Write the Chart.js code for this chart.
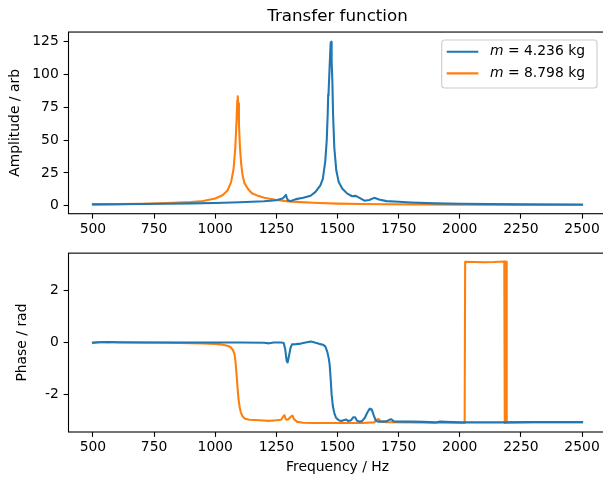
<!DOCTYPE html>
<html><head><meta charset="utf-8">
<script src="https://cdn.jsdelivr.net/npm/chart.js@4/dist/chart.umd.min.js"></script>
<style>
html,body{margin:0;padding:0;background:#fff;overflow:hidden;width:603px;height:481px;}
#wrap{position:relative;width:603px;height:481px;overflow:hidden;background:#fff;}
canvas{position:absolute;left:0;}
#c1{top:0;} #c2{top:240px;}
</style></head><body>
<div id="wrap"><canvas id="c1" width="620" height="240"></canvas><canvas id="c2" width="620" height="241"></canvas></div>
<script>
// ---------------- data ----------------
const masses = [4.236, 8.798];
const xTicks = [500, 750, 1000, 1250, 1500, 1750, 2000, 2250, 2500];
const ampTicks = [0, 25, 50, 75, 100, 125];
const phaseTicks = [-2, 0, 2];

const ampFreqBlue = [500,600,700,800,900,1000,1100,1200,1250,1275,1284,1289,1293,1298,1310,1330,1360,1390,1410,1430,1440,1450,1456,1460,1462,1463,1464,1468,1472,1474,1476,1479,1482,1487,1495,1505,1520,1540,1560,1575,1590,1610,1630,1650,1670,1700,1750,1800,1900,2000,2250,2500];
const ampBlue     = [1.0,1.1,1.3,1.5,1.8,2.0,2.6,3.4,4.2,5.5,7.0,8.3,6.0,4.0,3.6,5.0,6.0,7.6,10.5,15.5,20.5,34,50,70,85,84,86,107,124,125,110,95,69,44,27,18,13,9.2,7.2,7.5,6.0,3.8,4.3,6.0,4.7,3.5,3.0,2.5,1.8,1.5,1.1,0.9];

const ampFreqOrange = [500,600,700,800,900,950,1000,1030,1050,1065,1075,1082,1087,1090,1092,1094,1097,1101,1106,1112,1120,1135,1150,1175,1200,1250,1300,1350,1400,1500,1600,1700,1800,2000,2250,2500];
const ampOrange     = [1.0,1.2,1.5,2.0,2.8,3.6,5.5,8.0,11.5,18,28,44,64,80,83.5,78,62,45,32,23,17,12.5,9.5,7.5,6.0,4.4,3.3,2.7,2.2,1.6,1.3,1.1,1.0,0.8,0.6,0.5];

const phaseFreqBlue = [500,520,560,600,700,800,900,1000,1100,1200,1220,1240,1270,1280,1286,1292,1296,1302,1308,1314,1330,1350,1370,1390,1400,1410,1425,1440,1450,1458,1464,1468,1472,1476,1481,1487,1494,1504,1515,1528,1536,1545,1555,1565,1572,1580,1590,1600,1612,1622,1632,1640,1648,1656,1665,1680,1700,1712,1720,1730,1760,1800,1850,1900,1920,1940,2000,2100,2200,2300,2400,2500];
const phaseBlue     = [0.0,0.01,0.02,0.01,0.0,0.0,0.0,0.0,0.0,-0.01,-0.03,0.0,0.0,-0.02,-0.25,-0.7,-0.77,-0.5,-0.2,-0.07,-0.06,-0.04,0.0,0.04,0.02,-0.01,-0.05,-0.08,-0.15,-0.35,-0.6,-0.85,-1.4,-2.0,-2.45,-2.72,-2.9,-2.99,-3.03,-2.99,-2.97,-3.03,-3.0,-2.88,-2.88,-3.02,-3.05,-3.03,-2.9,-2.7,-2.55,-2.58,-2.8,-3.0,-3.05,-3.05,-3.04,-2.98,-2.96,-3.04,-3.05,-3.05,-3.06,-3.08,-3.05,-3.06,-3.08,-3.08,-3.08,-3.07,-3.07,-3.07];

const phaseFreqOrange = [500,520,540,560,580,600,700,800,900,950,1000,1030,1050,1062,1072,1079,1083,1087,1091,1095,1100,1105,1112,1122,1140,1180,1220,1250,1270,1278,1283,1288,1294,1300,1310,1316,1322,1335,1360,1400,1500,1600,1650,1662,1668,1676,1700,1800,1900,2000,2020,2022,2060,2100,2140,2182,2184,2186,2188,2190,2192,2200,2300,2400,2500];
const phaseOrange     = [-0.02,0.0,0.02,0.0,0.02,0.0,0.0,-0.01,-0.02,-0.03,-0.05,-0.08,-0.12,-0.17,-0.28,-0.45,-0.75,-1.2,-1.7,-2.15,-2.5,-2.7,-2.85,-2.94,-2.98,-3.0,-3.02,-3.0,-2.98,-2.85,-2.8,-2.95,-2.98,-2.95,-2.85,-2.82,-2.95,-3.06,-3.09,-3.1,-3.1,-3.1,-3.08,-2.97,-2.95,-3.04,-3.07,-3.08,-3.09,-3.09,-3.1,3.12,3.11,3.1,3.11,3.13,-3.1,3.12,-3.1,3.12,-3.08,-3.08,-3.07,-3.07,-3.07];

// ---------------- helpers ----------------
const FONT = 'DejaVu Sans';
const BLUE = '#1f77b4', ORANGE = '#ff7f0e';
const pts = (xs, ys) => xs.map((x, i) => ({x: x, y: ys[i]}));
const labelOf = m => 'm = ' + m.toFixed(3) + ' kg';

function lineDs(label, data, color) {
  return {label, data, borderColor: color, backgroundColor: color, borderWidth: 2.08,
    pointRadius: 0, tension: 0, fill: false, borderJoinStyle: 'round', borderCapStyle: 'square'};
}

function xScale(height, titleText, tickPad) {
  return {
    type: 'linear', min: 400, max: 2600,
    afterBuildTicks: s => { s.ticks = xTicks.map(v => ({value: v})); },
    afterFit: s => { s.height = height; },
    grid: {drawOnChartArea: false, drawTicks: true, tickLength: 4.9, tickWidth: 1.1, tickColor: '#000'},
    border: {display: false},
    ticks: {color: '#000', font: {family: FONT, size: 13.9}, padding: tickPad, maxRotation: 0, autoSkip: false, callback: v => String(v)},
    title: titleText ? {display: true, text: titleText, color: '#000', font: {family: FONT, size: 13.9, lineHeight: 1.2}, padding: {top: 0, bottom: 5.6}} : {display: false}
  };
}
function yScale(min, max, ticks, titleText, titlePadTop) {
  return {
    type: 'linear', min, max,
    afterBuildTicks: s => { s.ticks = ticks.map(v => ({value: v})); },
    afterFit: s => { s.width = 68.5; },
    grid: {drawOnChartArea: false, drawTicks: true, tickLength: 4.9, tickWidth: 1.1, tickColor: '#000'},
    border: {display: false},
    ticks: {color: '#000', font: {family: FONT, size: 13.9}, padding: 4.8, autoSkip: false, callback: v => String(v)},
    title: {display: true, text: titleText, color: '#000', font: {family: FONT, size: 13.9, lineHeight: 1.2}, padding: {top: titlePadTop, bottom: 0}}
  };
}

const framePlugin = {
  id: 'frame',
  afterDatasetsDraw(chart) {
    const a = chart.chartArea, ctx = chart.ctx;
    ctx.save();
    ctx.strokeStyle = '#000'; ctx.lineWidth = 1.1;
    ctx.strokeRect(a.left, a.top, a.right - a.left, a.bottom - a.top);
    ctx.restore();
  }
};

const legendPlugin = {
  id: 'mplLegend',
  afterDatasetsDraw(chart) {
    const a = chart.chartArea, ctx = chart.ctx;
    const bw = 155.3, bh = 48;
    const bx = a.right - 9.5 - bw, by = a.top + 8;
    const r = 3;
    ctx.save();
    ctx.beginPath();
    ctx.moveTo(bx + r, by);
    ctx.lineTo(bx + bw - r, by); ctx.arcTo(bx + bw, by, bx + bw, by + r, r);
    ctx.lineTo(bx + bw, by + bh - r); ctx.arcTo(bx + bw, by + bh, bx + bw - r, by + bh, r);
    ctx.lineTo(bx + r, by + bh); ctx.arcTo(bx, by + bh, bx, by + bh - r, r);
    ctx.lineTo(bx, by + r); ctx.arcTo(bx, by, bx + r, by, r);
    ctx.closePath();
    ctx.fillStyle = 'rgba(255,255,255,0.8)'; ctx.fill();
    ctx.strokeStyle = '#cccccc'; ctx.lineWidth = 1.1; ctx.stroke();
    chart.data.datasets.forEach((ds, i) => {
      const y = by + 11.7 + i * 21.6;
      ctx.beginPath();
      ctx.strokeStyle = ds.borderColor; ctx.lineWidth = 2.08; ctx.lineCap = 'butt';
      ctx.moveTo(bx + 5, y); ctx.lineTo(bx + 36.6, y); ctx.stroke();
      const lbl = ds.label;
      const first = lbl.charAt(0), rest = lbl.slice(1);
      ctx.fillStyle = '#000'; ctx.textBaseline = 'middle'; ctx.textAlign = 'left';
      ctx.font = 'italic 13.9px "' + FONT + '"';
      let tx = bx + 48.3;
      ctx.fillText(first, tx, y);
      tx += ctx.measureText(first).width;
      ctx.font = '13.9px "' + FONT + '"';
      ctx.fillText(rest, tx, y);
    });
    ctx.restore();
  }
};

// ---------------- top chart ----------------
new Chart(document.getElementById('c1'), {
  type: 'line',
  data: {datasets: [
    lineDs(labelOf(masses[0]), pts(ampFreqBlue, ampBlue), BLUE),
    lineDs(labelOf(masses[1]), pts(ampFreqOrange, ampOrange), ORANGE)
  ]},
  options: {
    responsive: false, animation: false, devicePixelRatio: 1,
    layout: {padding: {left: 0, right: 13.5, top: 0, bottom: 0}},
    plugins: {
      legend: {display: false}, tooltip: {enabled: false},
      title: {display: true, text: 'Transfer function', fullSize: false, color: '#000',
        font: {family: FONT, size: 16.7, weight: 'normal', lineHeight: 1.2}, padding: {top: 7, bottom: 5}}
    },
    scales: {
      x: xScale(26.3, null, 2.5),
      y: yScale(-6.1, 132.4, ampTicks, 'Amplitude / arb', 6.7)
    }
  },
  plugins: [framePlugin, legendPlugin]
});

// ---------------- bottom chart ----------------
new Chart(document.getElementById('c2'), {
  type: 'line',
  data: {datasets: [
    lineDs(labelOf(masses[0]), pts(phaseFreqBlue, phaseBlue), BLUE),
    lineDs(labelOf(masses[1]), pts(phaseFreqOrange, phaseOrange), ORANGE)
  ]},
  options: {
    responsive: false, animation: false, devicePixelRatio: 1,
    layout: {padding: {left: 0, right: 13.5, top: 10.3, bottom: 0}},
    plugins: {legend: {display: false}, tooltip: {enabled: false}, title: {display: false}},
    scales: {
      x: xScale(49, 'Frequency / Hz', 2.5),
      y: yScale(-3.45, 3.45, phaseTicks, 'Phase / rad', 14)
    }
  },
  plugins: [framePlugin]
});
</script>
</body></html>
